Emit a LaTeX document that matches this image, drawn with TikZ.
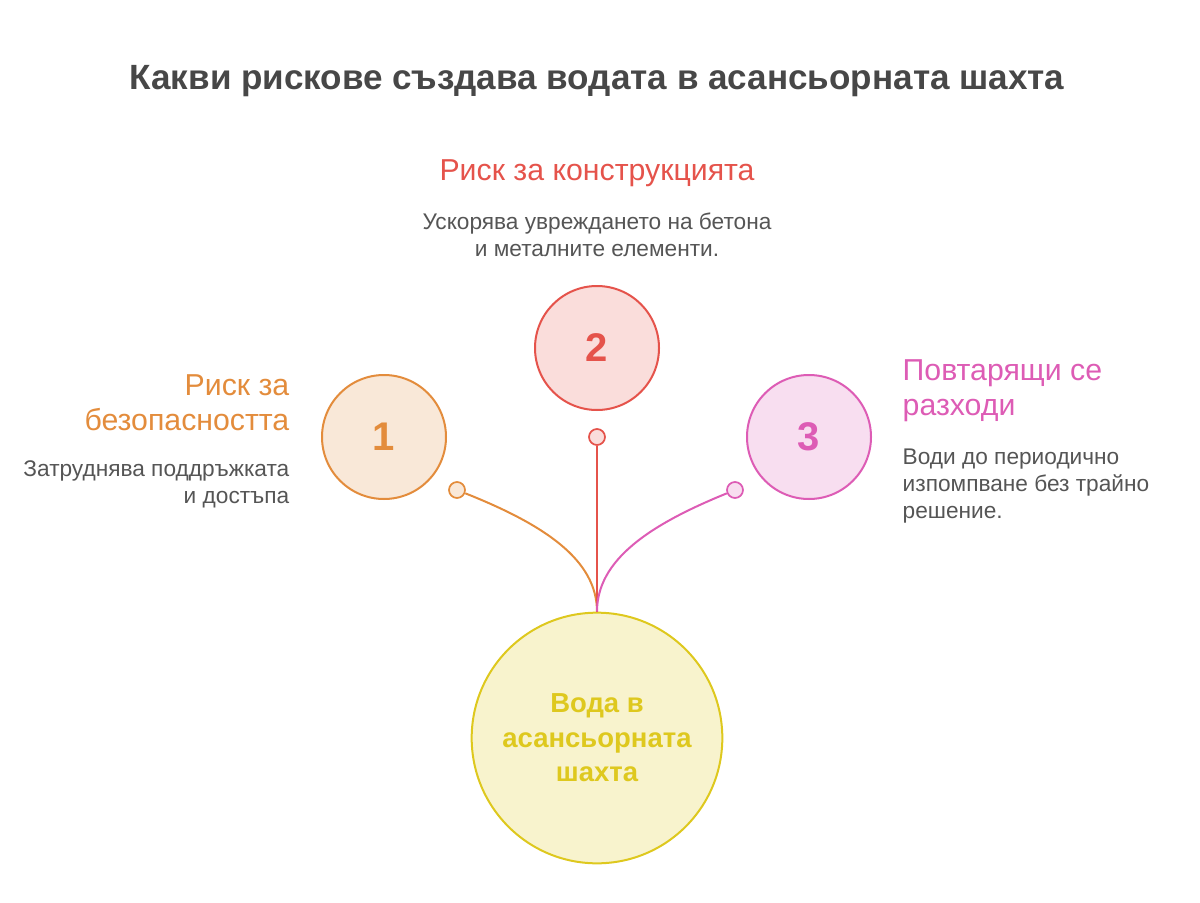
\documentclass[tikz,border=0pt]{standalone}
\usepackage{fontspec}
\setmainfont{Liberation Sans}
\usetikzlibrary{positioning}
\definecolor{titlegray}{HTML}{474747}
\definecolor{textgray}{HTML}{555555}
\definecolor{riskorange}{HTML}{E38C3C}
\definecolor{riskred}{HTML}{E5534B}
\definecolor{riskpink}{HTML}{DD5CB5}
\definecolor{wateryellow}{HTML}{DEC81E}

\begin{document}
\begin{tikzpicture}[
            x=0.75pt, y=-0.75pt,
            riskcircle/.style={circle, line width=1.5pt, inner sep=0pt, minimum size=93pt, font=\fontsize{30}{30}\selectfont\bfseries},
            watercircle/.style={circle, line width=1.5pt, inner sep=0pt, minimum size=188pt, align=center, text=wateryellow, draw=wateryellow, fill=wateryellow!22, font=\fontsize{20.6}{26}\selectfont\bfseries},
            dot/.style={circle, line width=1.3pt, inner sep=0pt, minimum size=12pt},
            heading/.style={font=\fontsize{22.7}{26.2}\selectfont},
            desc/.style={text=textgray, font=\fontsize{17}{20.4}\selectfont},
            link/.style={line width=1.5pt}
        ]
            \useasboundingbox (0,0) rectangle (1200,903);
            
            % Title
            \node[text=titlegray, font=\fontsize{26.3}{30}\selectfont\bfseries] (title) at (597,81) {Какви рискове създава водата в асансьорната шахта};
            
            % Central circle
            \node[watercircle] (water) at (597,738) {Вода в\\асансьорната\\шахта};
            
            % Risk circles
            \node[riskcircle, draw=riskorange, fill=riskorange!20, text=riskorange] (risk1) at (384,437) {1};
            \node[riskcircle, draw=riskred, fill=riskred!20, text=riskred] (risk2) at (597,348) {2};
            \node[riskcircle, draw=riskpink, fill=riskpink!20, text=riskpink] (risk3) at (809,437) {3};
            
            % Connector ends
            \node[dot, draw=riskorange, fill=riskorange!20] (dot1) at (457,490) {};
            \node[dot, draw=riskred, fill=riskred!20] (dot2) at (597,437) {};
            \node[dot, draw=riskpink, fill=riskpink!20] (dot3) at (735,490) {};
            
            \draw[link, riskorange] (dot1) .. controls (545,525) and (597,560) .. (water.north);
            \draw[link, riskred] (dot2) -- (water.north);
            \draw[link, riskpink] (dot3) .. controls (649,525) and (597,560) .. (water.north);
            
            % Labels
            \node[heading, text=riskred] (head2) at (597,173) {Риск за конструкцията};
            \node[desc, align=center] (desc2) at (597,235) {Ускорява увреждането на бетона\\и металните елементи.};
            
            \node[heading, text=riskorange, align=right, anchor=east] (head1) at (294,403) {Риск за\\безопасността};
            \node[desc, align=right, anchor=east] (desc1) at (294,484) {Затруднява поддръжката\\и достъпа};
            
            \node[heading, text=riskpink, align=left, anchor=west] (head3) at (898,391) {Повтарящи се\\разходи};
            \node[desc, align=left, anchor=west] (desc3) at (898,486) {Води до периодично\\изпомпване без трайно\\решение.};
            
        \end{tikzpicture}
\end{document}
